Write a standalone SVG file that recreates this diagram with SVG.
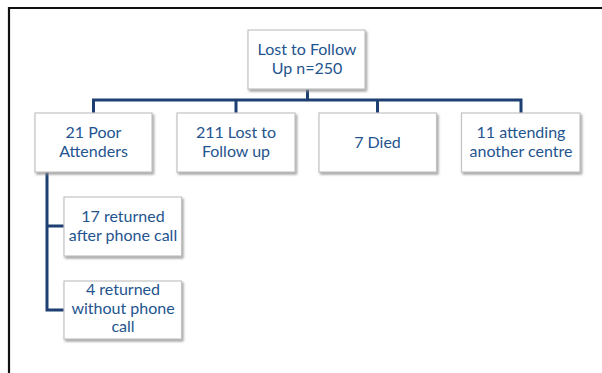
<svg xmlns="http://www.w3.org/2000/svg" width="602" height="373" viewBox="0 0 602 373">
  <defs>
    <filter id="shadow" x="-10%" y="-10%" width="125%" height="130%">
      <feDropShadow dx="1.5" dy="2" stdDeviation="1.2" flood-color="#8a8a8a" flood-opacity="0.8"/>
    </filter>
  </defs>
  <style>
    .box { fill: #ffffff; stroke: #c4c4c4; stroke-width: 1.2; filter: url(#shadow); }
    .label { font-family: "Lato", "Open Sans", "Liberation Sans", sans-serif; font-size: 16px; fill: #24548f; text-anchor: middle; }
    .link { fill: none; stroke: #1d3f72; stroke-width: 3; stroke-linecap: butt; stroke-linejoin: miter; }
  </style>
  <rect width="602" height="373" fill="#ffffff"/>
  <!-- outer frame, open on the right and bottom -->
  <path d="M9,373 V8 H602" fill="none" stroke="#111111" stroke-width="2.2"/>

  <g id="connectors">
    <path class="link" d="M307.5,89 V100"/>
    <path class="link" d="M93.5,113 V100 H521 V113"/>
    <path class="link" d="M236,100 V113"/>
    <path class="link" d="M377.5,100 V113"/>
    <path class="link" d="M47,172 V310 H64"/>
    <path class="link" d="M47,226 H64"/>
  </g>

  <g id="root">
    <rect class="box" x="248" y="30" width="117" height="59"/>
    <text class="label" x="307" y="55">Lost to Follow</text>
    <text class="label" x="307" y="74">Up n=250</text>
  </g>

  <g id="poor-attenders">
    <rect class="box" x="35" y="113" width="117" height="59"/>
    <text class="label" x="93.5" y="138">21 Poor</text>
    <text class="label" x="93.5" y="157">Attenders</text>
  </g>

  <g id="lost-follow-up">
    <rect class="box" x="177" y="113" width="118" height="59"/>
    <text class="label" x="236" y="138">211 Lost to</text>
    <text class="label" x="236" y="157">Follow up</text>
  </g>

  <g id="died">
    <rect class="box" x="319" y="113" width="117.5" height="59"/>
    <text class="label" x="377.5" y="148">7 Died</text>
  </g>

  <g id="another-centre">
    <rect class="box" x="461.5" y="113" width="118.5" height="59"/>
    <text class="label" x="521" y="138">11 attending</text>
    <text class="label" x="521" y="157">another centre</text>
  </g>

  <g id="returned-after-call">
    <rect class="box" x="64" y="197" width="117.5" height="59"/>
    <text class="label" x="123" y="221.5">17 returned</text>
    <text class="label" x="123" y="240.5">after phone call</text>
  </g>

  <g id="returned-without-call">
    <rect class="box" x="64" y="281" width="117.5" height="58"/>
    <text class="label" x="123" y="295">4 returned</text>
    <text class="label" x="123" y="313.5">without phone</text>
    <text class="label" x="123" y="332">call</text>
  </g>
</svg>
